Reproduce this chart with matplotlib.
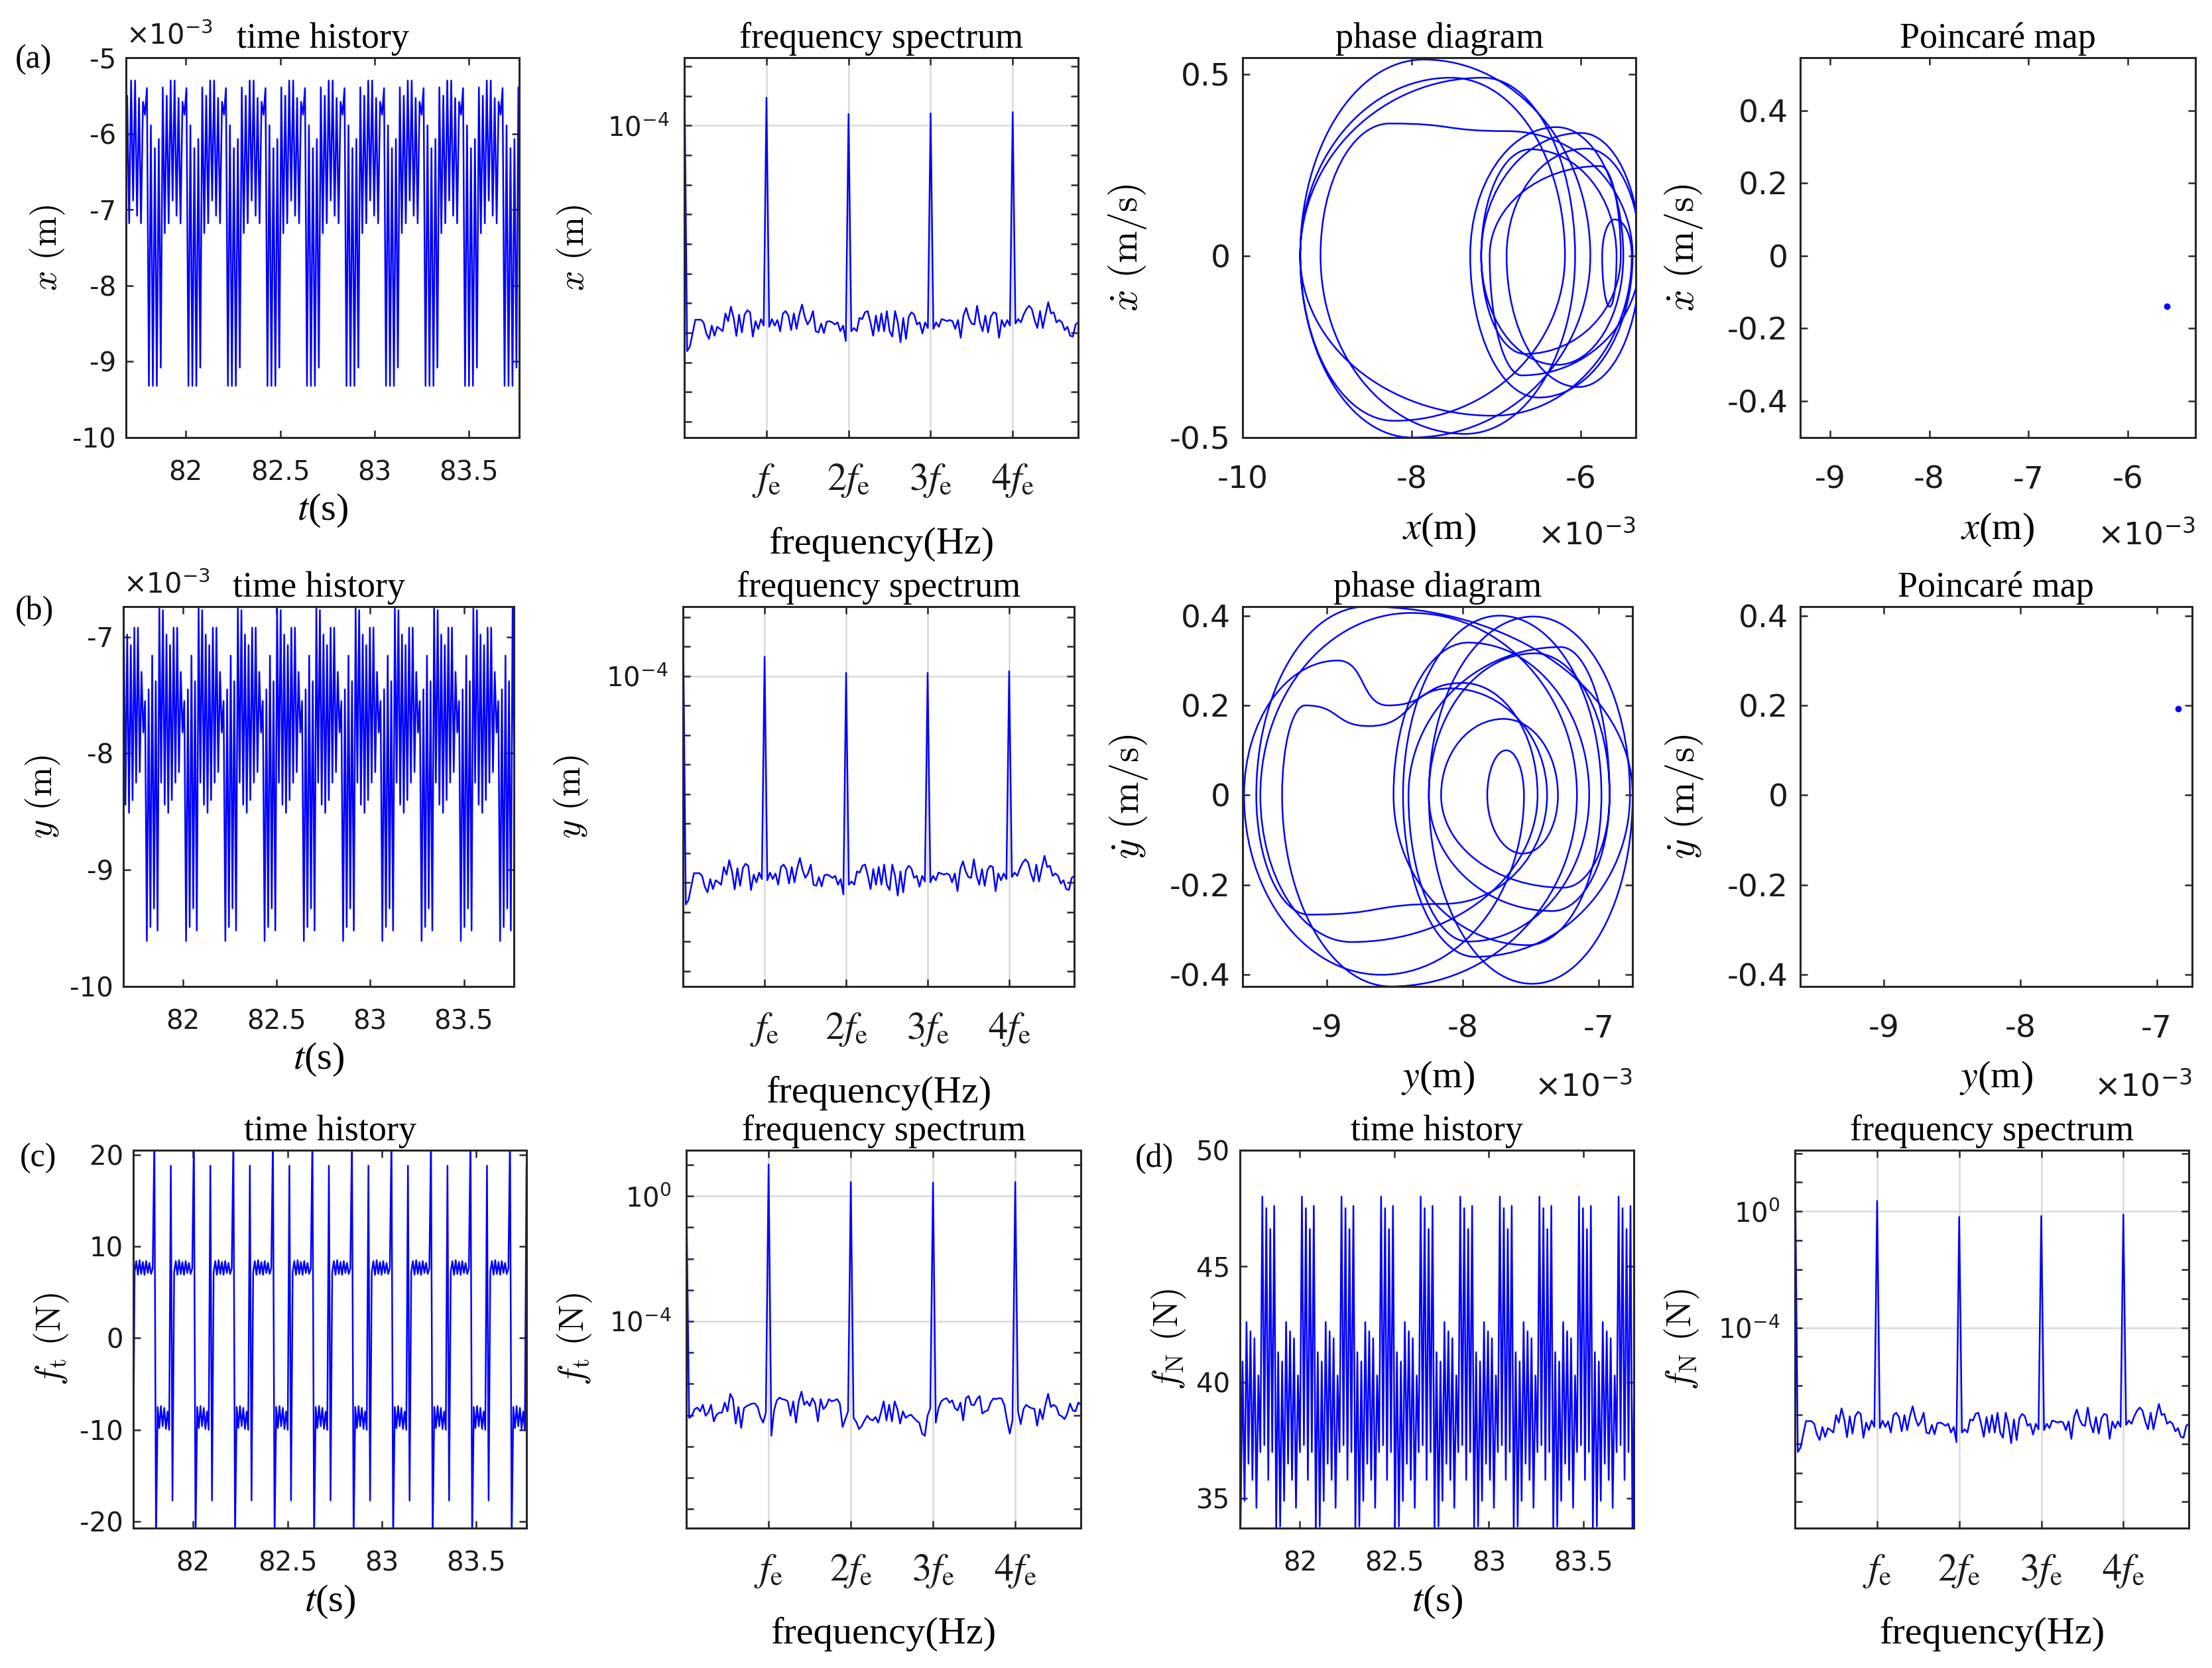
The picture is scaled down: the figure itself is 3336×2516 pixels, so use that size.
import numpy as np
import matplotlib
matplotlib.use('Agg')
import matplotlib.pyplot as plt
from matplotlib.path import Path
from matplotlib.patches import PathPatch
from matplotlib.ticker import (FixedLocator, FixedFormatter, FuncFormatter,
                               LogLocator, NullFormatter)

# ---------------- data ----------------
period = 0.2095          # s, one excitation cycle, f_e = 1/period

# turning points of one cycle in the phase plane: (disp [1e-3 m], vel [m/s])
# vel == 0 -> extreme of displacement, otherwise extreme of velocity
phase_x = [
    (-9.32, 0.0), (-7.86, 0.54), (-5.89, 0.0), (-8.00, -0.50),
    (-9.32, 0.0), (-7.54, 0.49), (-6.19, 0.0), (-8.21, -0.454),
    (-9.32, 0.0), (-7.16, 0.49), (-6.07, 0.0), (-7.37, -0.49),
    (-9.08, 0.0), (-8.26, 0.364), (-6.87, 0.343), (-5.39, 0.0),
    (-6.50, -0.39), (-7.31, 0.0), (-6.29, 0.354), (-5.50, 0.0),
    (-6.28, -0.30), (-7.18, 0.0), (-6.00, 0.338), (-5.30, 0.0),
    (-6.03, -0.361), (-6.88, 0.0), (-5.94, 0.295), (-5.30, 0.0),
    (-6.70, -0.329), (-7.08, 0.0), (-5.77, 0.247), (-5.53, 0.0),
    (-6.66, -0.27), (-7.18, 0.0), (-6.60, 0.293), (-5.58, 0.0),
    (-5.66, -0.14), (-5.75, 0.0), (-5.60, 0.10), (-5.40, 0.0),
    (-7.04, -0.44),
]
phase_y = [
    (-9.61, 0.0), (-8.92, 0.30), (-8.55, 0.20), (-8.00, 0.25), (-7.45, 0.0),
    (-8.82, -0.327), (-9.49, 0.0), (-8.38, 0.406), (-7.16, 0.0),
    (-8.53, -0.426), (-9.33, 0.0), (-9.16, 0.20), (-8.69, 0.154),
    (-8.09, 0.238), (-7.38, 0.0), (-8.14, -0.242), (-9.13, -0.266),
    (-9.52, 0.0), (-8.71, 0.42), (-6.75, 0.0), (-7.49, -0.42),
    (-8.25, 0.0), (-7.48, 0.398), (-6.77, 0.0), (-7.91, -0.36),
    (-8.44, 0.0), (-7.73, 0.40), (-6.98, 0.0), (-7.52, -0.334),
    (-8.51, 0.0), (-7.96, 0.34), (-7.07, 0.0), (-7.96, -0.326),
    (-8.40, 0.0), (-7.28, 0.33), (-6.92, 0.0), (-7.34, -0.258),
    (-8.25, 0.0), (-7.47, 0.316), (-6.92, 0.0), (-7.26, -0.206),
    (-8.16, 0.0), (-7.70, 0.17), (-7.30, 0.0), (-7.56, -0.13),
    (-7.82, 0.0), (-7.68, 0.10), (-7.55, 0.0), (-8.60, -0.40),
]
poincare_x = (-5.605, -0.139)
poincare_y = (-6.84, 0.192)
t0_x = 81.5945
t0_y = 81.5985

# tangential contact force, samples over one cycle (N)
ft_cycle = [7.2, 8.4, 6.9, 8.5, 7.0, 8.3, 6.9, 8.4, 7.1, 8.2, 7.0, 7.6,
            22.0, -22.0, -7.5, -9.8, -7.4, -9.6, -7.6, -9.9, -8.0, -10.0,
            18.8, -17.7]
t0_ft = 81.48
# normal contact force, extremes over one cycle (N)
fn_cycle = [48.0, 37.3, 47.5, 35.8, 46.6, 37.0, 47.6, 33.6, 41.3, 33.8,
            40.9, 34.9, 42.6, 36.5, 42.2, 35.8, 41.9, 34.6, 40.3, 37.0]
t0_fn = 81.5915

# spectra: log10 of amplitude, 30 bins per f_e
bins_per_fe = 30
floor_xyN = [
    -10.6,
    -11.62, -11.47, -11.02, -10.56, -10.56, -10.56, -10.65, -11.02, -11.21, -10.76,
    -11.10, -10.80, -10.87, -10.95, -10.35, -10.61, -10.12, -10.50, -11.11, -10.39,
    -10.99, -10.39, -10.24, -10.31, -11.13, -10.61, -10.87, -10.54, -10.76,
    -10.7,
    -10.80, -10.54, -10.76, -10.57, -10.95, -10.35, -10.27, -10.42, -10.91, -10.35,
    -10.87, -10.39, -10.05, -10.46, -10.72, -10.57, -10.27, -10.95, -10.99, -10.69,
    -11.01, -10.63, -10.61, -10.65, -10.72, -10.65, -10.95, -10.76, -11.28,
    -10.9,
    -10.95, -10.84, -10.95, -10.50, -10.54, -10.31, -10.27, -10.65, -11.10, -10.42,
    -10.95, -10.35, -10.95, -10.27, -10.95, -11.13, -10.27, -10.65, -11.32, -10.50,
    -11.21, -10.46, -10.31, -10.39, -10.72, -10.65, -11.02, -10.65, -10.84,
    -10.8,
    -10.87, -10.65, -10.80, -10.54, -10.57, -10.61, -10.57, -10.61, -10.87, -10.57,
    -11.17, -10.42, -10.16, -10.50, -10.69, -10.72, -10.09, -10.65, -10.95, -10.42,
    -10.99, -10.46, -10.31, -10.35, -11.17, -10.57, -10.80, -10.57, -10.76,
    -10.7,
    -10.69, -10.54, -10.65, -10.39, -10.20, -10.09, -10.20, -10.57, -10.84, -10.27,
    -10.84, -10.39, -9.97, -10.35, -10.31, -10.65, -10.57, -10.65, -10.91, -10.80,
    -11.10, -11.13, -10.72, -10.65,
]
floor_ft = [
    -7.0,
    -7.09, -7.02, -6.81, -6.76, -6.88, -6.67, -7.02, -6.92, -6.67, -7.20,
    -6.99, -6.92, -6.92, -6.60, -6.88, -6.32, -6.49, -7.27, -6.74, -7.41,
    -6.78, -6.71, -6.67, -6.63, -6.63, -6.74, -7.06, -7.24, -6.92,
    -7.0,
    -7.66, -6.85, -6.53, -6.44, -6.49, -6.51, -6.56, -7.02, -6.56, -7.24,
    -6.56, -6.25, -6.67, -6.56, -6.71, -6.46, -6.63, -7.20, -6.49, -6.81,
    -6.71, -6.49, -6.56, -6.53, -6.49, -6.63, -7.38, -7.13, -6.88,
    -7.0,
    -7.09, -7.22, -7.45, -7.34, -7.17, -7.02, -7.13, -7.17, -7.06, -7.24,
    -6.92, -6.56, -7.17, -6.67, -7.20, -6.56, -6.81, -7.27, -6.88, -7.09,
    -7.02, -6.99, -7.09, -7.18, -7.25, -7.59, -7.66, -7.02, -6.78,
    -7.0,
    -7.24, -6.78, -6.56, -6.49, -6.46, -6.60, -6.53, -6.78, -6.85, -6.60,
    -7.17, -6.46, -6.39, -6.67, -6.68, -6.49, -6.39, -6.95, -6.88, -6.85,
    -6.60, -6.47, -6.49, -6.46, -6.47, -6.67, -7.17, -7.59, -7.17,
    -7.0,
    -6.88, -7.29, -6.81, -6.67, -6.74, -6.78, -6.80, -7.34, -6.81, -7.13,
    -6.67, -6.32, -6.74, -6.67, -6.74, -6.99, -7.04, -7.13, -6.95, -6.63,
    -6.85, -6.88, -6.60, -6.67,
]
shift_y = -0.12
shift_N = 3.34
dc_x, peaks_x = -2.15, [-3.06, -3.61, -3.59, -3.55]
dc_y, peaks_y = -2.09, [-3.34, -3.89, -3.89, -3.83]
dc_ft, peaks_ft = -0.03, [1.01, 0.45, 0.43, 0.45]
dc_N, peaks_N = 1.64, [0.36, -0.19, -0.16, -0.11]

harmonic_labels = [r'$f_\mathrm{e}$', r'$2f_\mathrm{e}$', r'$3f_\mathrm{e}$', r'$4f_\mathrm{e}$']

# ---------------- style ----------------
plt.rcParams['font.family'] = 'DejaVu Sans'
plt.rcParams['axes.unicode_minus'] = False
plt.rcParams['mathtext.fontset'] = 'stix'
SERIF = 'Liberation Serif'
BLUE = '#0000ff'
LW = 0.9
DARK = '#262626'
T_LIM = (81.683, 83.768)
T_TICKS = [82, 82.5, 83, 83.5]

fig = plt.figure(figsize=(16.68, 12.58), dpi=200)

def new_axes(rect, tick_size, xpad, ypad):
    ax = fig.add_axes(rect)
    for sp in ax.spines.values():
        sp.set_linewidth(1.1)
        sp.set_color(DARK)
    ax.tick_params(which='both', direction='in', top=True, right=True,
                   length=4, width=0.9, color=DARK, labelcolor='#1a1a1a',
                   labelsize=tick_size)
    ax.tick_params(axis='x', pad=xpad)
    ax.tick_params(axis='y', pad=ypad)
    return ax

gfmt = FuncFormatter(lambda v, p: '%g' % v)

def title(ax, s):
    ax.text(0.5, 1.05, s, transform=ax.transAxes, ha='center', va='center',
            family=SERIF, fontsize=19.5)

def xlabel(ax, s, y):
    ax.text(0.5, y, s, transform=ax.transAxes, ha='center', va='center',
            family=SERIF, math_fontfamily='stix', fontsize=21)

def ylabel(ax, s, x, size=19.5):
    ax.text(x, 0.5, s, transform=ax.transAxes, ha='center', va='center',
            rotation=90, math_fontfamily='cm', fontsize=size)

def times_ten(ax, x, y, ha, size):
    ax.text(x, y, '×$\\mathregular{10^{-3}}$', transform=ax.transAxes,
            ha=ha, va='center', fontsize=size, color='#1a1a1a')

def time_history(ax, values, t_start, ylim, yticks, n_cycles=12):
    vals = np.tile(values, n_cycles)
    t = t_start + np.arange(vals.size) * period / len(values)
    ax.plot(t, vals, color=BLUE, lw=LW)
    ax.set_xlim(*T_LIM)
    ax.set_ylim(*ylim)
    ax.xaxis.set_major_locator(FixedLocator(T_TICKS))
    ax.yaxis.set_major_locator(FixedLocator(yticks))
    ax.xaxis.set_major_formatter(gfmt)
    ax.yaxis.set_major_formatter(gfmt)

def spectrum(ax, floor, shift, dc, peaks, ylim_exp, majors):
    e = np.array(floor, dtype=float) + shift
    e[0] = dc
    for k, p in enumerate(peaks, start=1):
        e[k * bins_per_fe] = p
    f = np.arange(e.size) / bins_per_fe
    ax.semilogy(f, 10.0 ** e, color=BLUE, lw=LW)
    ax.set_xlim(0, 4.8)
    ax.set_ylim(10.0 ** ylim_exp[0], 10.0 ** ylim_exp[1])
    ax.xaxis.set_major_locator(FixedLocator([1, 2, 3, 4]))
    ax.xaxis.set_major_formatter(FixedFormatter(harmonic_labels))
    for lab in ax.get_xticklabels():
        lab.set_fontsize(21)
        lab.set_family(SERIF)
        lab.set_math_fontfamily('stix')
    ax.yaxis.set_major_locator(FixedLocator([10.0 ** m for m in majors]))
    ax.yaxis.set_major_formatter(FixedFormatter(
        [r'$\mathregular{10^{%d}}$' % m for m in majors]))
    ax.yaxis.set_minor_locator(LogLocator(base=10, subs=(1.0,), numticks=100))
    ax.yaxis.set_minor_formatter(NullFormatter())
    ax.grid(True, which='major', color='#d9d9d9', lw=0.9)
    ax.set_axisbelow(True)

def phase(ax, pts, xlim, ylim, xticks, yticks, k=0.5523):
    pts = list(pts) + [pts[0]]
    verts = [pts[0]]
    codes = [Path.MOVETO]
    for (x0, v0), (x1, v1) in zip(pts[:-1], pts[1:]):
        c1 = (x0, v0 + k * (v1 - v0)) if v0 == 0 else (x0 + k * (x1 - x0), v0)
        c2 = (x1, v1 + k * (v0 - v1)) if v1 == 0 else (x1 - k * (x1 - x0), v1)
        verts += [c1, c2, (x1, v1)]
        codes += [Path.CURVE4] * 3
    ax.add_patch(PathPatch(Path(verts, codes), fill=False, edgecolor=BLUE, lw=LW))
    ax.set_xlim(*xlim)
    ax.set_ylim(*ylim)
    ax.xaxis.set_major_locator(FixedLocator(xticks))
    ax.yaxis.set_major_locator(FixedLocator(yticks))
    ax.xaxis.set_major_formatter(gfmt)
    ax.yaxis.set_major_formatter(gfmt)

def poincare(ax, pt, xlim, ylim, xticks, yticks):
    ax.plot([pt[0]], [pt[1]], '.', color=BLUE, ms=5)
    ax.set_xlim(*xlim)
    ax.set_ylim(*ylim)
    ax.xaxis.set_major_locator(FixedLocator(xticks))
    ax.yaxis.set_major_locator(FixedLocator(yticks))
    ax.xaxis.set_major_formatter(gfmt)
    ax.yaxis.set_major_formatter(gfmt)

ext_x = [p[0] for p in phase_x if p[1] == 0]
ext_y = [p[0] for p in phase_y if p[1] == 0]
v_ticks = [-0.4, -0.2, 0, 0.2, 0.4]

# ---------------- row (a) ----------------
ax = new_axes([0.0570, 0.7377, 0.1778, 0.2277], 14.5, 12, 5.5)
time_history(ax, ext_x, t0_x, (-10, -5), [-10, -9, -8, -7, -6, -5])
title(ax, 'time history')
times_ten(ax, 0.0, 1.058, 'left', 15)
xlabel(ax, r'$t$(s)', -0.192)
ylabel(ax, r'$x\ (\mathrm{m})$', -0.20)

ax = new_axes([0.3094, 0.7377, 0.1781, 0.2277], 14.5, 13, 8)
spectrum(ax, floor_xyN, 0.0, dc_x, peaks_x, (-14.54, -1.71), [-4])
title(ax, 'frequency spectrum')
xlabel(ax, 'frequency(Hz)', -0.281)
ylabel(ax, r'$x\ (\mathrm{m})$', -0.278)

ax = new_axes([0.5618, 0.7377, 0.1778, 0.2277], 17, 15, 6.5)
phase(ax, phase_x, (-10, -5.35), (-0.5, 0.545), [-10, -8, -6], [-0.5, 0, 0.5])
title(ax, 'phase diagram')
xlabel(ax, r'$x$(m)', -0.244)
ylabel(ax, r'$\dot{x}\ (\mathrm{m/s})$', -0.293, 21)
times_ten(ax, 1.0, -0.258, 'right', 17)

ax = new_axes([0.8138, 0.7377, 0.1787, 0.2277], 17, 15, 6.5)
poincare(ax, poincare_x, (-9.30, -5.32), (-0.5, 0.545), [-9, -8, -7, -6], v_ticks)
title(ax, 'Poincaré map')
xlabel(ax, r'$x$(m)', -0.244)
ylabel(ax, r'$\dot{x}\ (\mathrm{m/s})$', -0.295, 21)
times_ten(ax, 1.0, -0.258, 'right', 17)

# ---------------- row (b) ----------------
ax = new_axes([0.0558, 0.4086, 0.1766, 0.2277], 14.5, 12, 5.5)
time_history(ax, ext_y, t0_y, (-10, -6.74), [-10, -9, -8, -7])
title(ax, 'time history')
times_ten(ax, 0.0, 1.058, 'left', 15)
xlabel(ax, r'$t$(s)', -0.192)
ylabel(ax, r'$y\ (\mathrm{m})$', -0.205)

ax = new_axes([0.3088, 0.4086, 0.1769, 0.2277], 14.5, 13, 8)
spectrum(ax, floor_xyN, shift_y, dc_y, peaks_y, (-14.52, -1.645), [-4])
title(ax, 'frequency spectrum')
xlabel(ax, 'frequency(Hz)', -0.281)
ylabel(ax, r'$y\ (\mathrm{m})$', -0.285)

ax = new_axes([0.5618, 0.4086, 0.1763, 0.2277], 17, 15, 6.5)
phase(ax, phase_y, (-9.62, -6.75), (-0.426, 0.42), [-9, -8, -7], v_ticks)
title(ax, 'phase diagram')
xlabel(ax, r'$y$(m)', -0.241)
ylabel(ax, r'$\dot{y}\ (\mathrm{m/s})$', -0.293, 21)
times_ten(ax, 1.0, -0.265, 'right', 17)

ax = new_axes([0.8138, 0.4086, 0.1772, 0.2277], 17, 15, 6.5)
poincare(ax, poincare_y, (-9.615, -6.74), (-0.426, 0.42), [-9, -8, -7], v_ticks)
title(ax, 'Poincaré map')
xlabel(ax, r'$y$(m)', -0.241)
ylabel(ax, r'$\dot{y}\ (\mathrm{m/s})$', -0.295, 21)
times_ten(ax, 1.0, -0.265, 'right', 17)

# ---------------- row (c) / (d) ----------------
ax = new_axes([0.0603, 0.0839, 0.1778, 0.2266], 14.5, 12, 5.5)
time_history(ax, ft_cycle, t0_ft, (-20.7, 20.5), [-20, -10, 0, 10, 20], 13)
title(ax, 'time history')
xlabel(ax, r'$t$(s)', -0.195)
ylabel(ax, r'$f_\mathrm{t}\ (\mathrm{N})$', -0.207)

ax = new_axes([0.3103, 0.0839, 0.1784, 0.2266], 14.5, 13, 8)
spectrum(ax, floor_ft, 0.0, dc_ft, peaks_ft, (-10.61, 1.47), [-4, 0])
title(ax, 'frequency spectrum')
xlabel(ax, 'frequency(Hz)', -0.281)
ylabel(ax, r'$f_\mathrm{t}\ (\mathrm{N})$', -0.282)

ax = new_axes([0.5606, 0.0839, 0.1781, 0.2266], 14.5, 12, 5.5)
time_history(ax, fn_cycle, t0_fn, (33.73, 50), [35, 40, 45, 50])
title(ax, 'time history')
xlabel(ax, r'$t$(s)', -0.195)
ylabel(ax, r'$f_\mathrm{N}\ (\mathrm{N})$', -0.18)

ax = new_axes([0.8115, 0.0839, 0.1781, 0.2266], 14.5, 13, 8)
spectrum(ax, floor_xyN, shift_N, dc_N, peaks_N, (-10.90, 2.11), [-4, 0])
title(ax, 'frequency spectrum')
xlabel(ax, 'frequency(Hz)', -0.281)
ylabel(ax, r'$f_\mathrm{N}\ (\mathrm{N})$', -0.286)

# panel letters
for s, x, y in [('(a)', 0.015, 0.9642), ('(b)', 0.0156, 0.6335),
                ('(c)', 0.0171, 0.3056), ('(d)', 0.522, 0.3052)]:
    fig.text(x, y, s, ha='center', va='center', family=SERIF, fontsize=18)

fig.savefig('out.png', dpi=200, facecolor='white')
